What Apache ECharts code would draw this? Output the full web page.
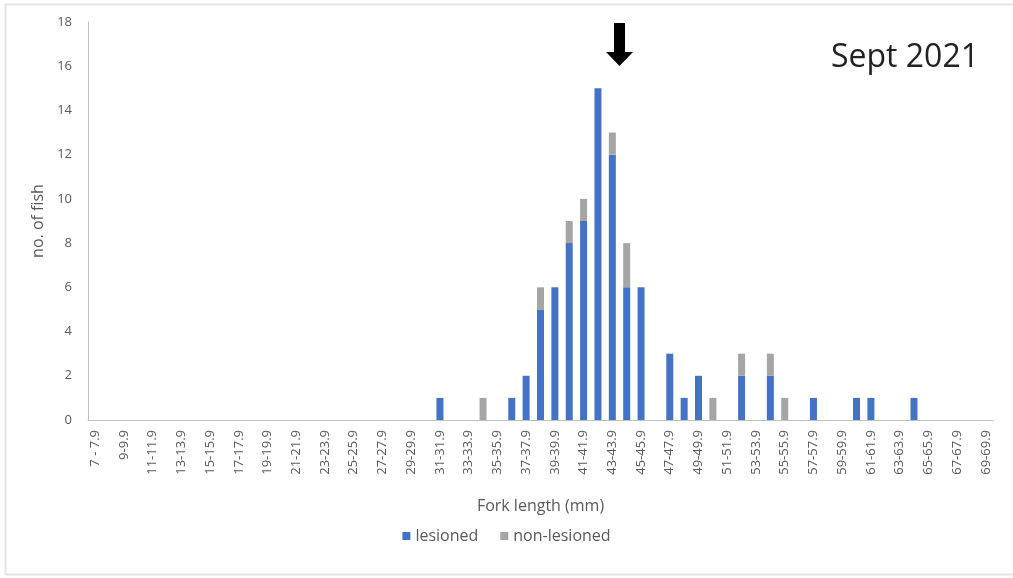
<!DOCTYPE html>
<html>
<head>
<meta charset="utf-8">
<script src="https://cdn.jsdelivr.net/npm/echarts@6/dist/echarts.min.js"></script>
<style>html,body{margin:0;padding:0;background:#fff;}#c{width:1013px;height:578px;}</style>
</head>
<body>
<div id="c"></div>
<script>
const categories = [
  "7 - 7.9","8-8.9","9-9.9","10-10.9","11-11.9","12-12.9","13-13.9","14-14.9","15-15.9","16-16.9",
  "17-17.9","18-18.9","19-19.9","20-20.9","21-21.9","22-22.9","23-23.9","24-24.9","25-25.9","26-26.9",
  "27-27.9","28-28.9","29-29.9","30-30.9","31-31.9","32-32.9","33-33.9","34-34.9","35-35.9","36-36.9",
  "37-37.9","38-38.9","39-39.9","40-40.9","41-41.9","42-42.9","43-43.9","44-44.9","45-45.9","46-46.9",
  "47-47.9","48-48.9","49-49.9","50-50.9","51-51.9","52-52.9","53-53.9","54-54.9","55-55.9","56-56.9",
  "57-57.9","58-58.9","59-59.9","60-60.9","61-61.9","62-62.9","63-63.9","64-64.9","65-65.9","66-66.9",
  "67-67.9","68-68.9","69-69.9"
];
const lesioned = [
  0,0,0,0,0,0,0,0,0,0,
  0,0,0,0,0,0,0,0,0,0,
  0,0,0,0,1,0,0,0,0,1,
  2,5,6,8,9,15,12,6,6,0,
  3,1,2,0,0,2,0,2,0,0,
  1,0,0,1,1,0,0,1,0,0,
  0,0,0
];
const nonLesioned = [
  0,0,0,0,0,0,0,0,0,0,
  0,0,0,0,0,0,0,0,0,0,
  0,0,0,0,0,0,0,1,0,0,
  0,1,0,1,1,0,1,2,0,0,
  0,0,0,1,0,1,0,1,1,0,
  0,0,0,0,0,0,0,0,0,0,
  0,0,0
];
const yTicks = { min: 0, max: 18, interval: 2 };
const seriesNames = ["lesioned", "non-lesioned"];
const annotation = "Sept 2021";

const chart = echarts.init(document.getElementById('c'));
const font = "'Open Sans', 'Liberation Sans', sans-serif";
chart.setOption({
  animation: false,
  backgroundColor: '#ffffff',
  grid: { left: 88, right: 20, top: 22, bottom: 158 },
  legend: {
    data: seriesNames,
    bottom: 29,
    left: 'center',
    itemWidth: 8, itemHeight: 8, itemGap: 22,
    icon: 'rect',
    textStyle: { color: '#595959', fontSize: 16, fontFamily: font }
  },
  xAxis: {
    type: 'category',
    data: categories,
    name: 'Fork length (mm)',
    nameLocation: 'middle',
    nameGap: 78,
    nameTextStyle: { color: '#595959', fontSize: 16, fontFamily: font },
    axisLine: { lineStyle: { color: '#bfbfbf', width: 1 } },
    axisTick: { show: false },
    axisLabel: { interval: 1, rotate: 90, color: '#595959', fontSize: 13, fontFamily: font, margin: 10 }
  },
  yAxis: {
    type: 'value',
    min: yTicks.min, max: yTicks.max, interval: yTicks.interval,
    name: 'no. of fish',
    nameLocation: 'middle',
    nameGap: 37,
    nameTextStyle: { color: '#595959', fontSize: 16, fontFamily: font },
    axisLine: { show: true, lineStyle: { color: '#bfbfbf', width: 1 } },
    axisTick: { show: false },
    splitLine: { show: false },
    axisLabel: { color: '#595959', fontSize: 13, fontFamily: font, margin: 16 }
  },
  series: [
    { name: seriesNames[0], type: 'bar', stack: 'a', data: lesioned, barWidth: 7,
      itemStyle: { color: '#4472C4' } },
    { name: seriesNames[1], type: 'bar', stack: 'a', data: nonLesioned, barWidth: 7,
      itemStyle: { color: '#A5A5A5' } }
  ],
  graphic: [
    { type: 'rect', left: 3, top: 2, shape: { width: 1020, height: 570 }, silent: true,
      style: { fill: 'none', stroke: '#e4e4e4', lineWidth: 2 } },
    { type: 'polygon', silent: true,
      shape: { points: [[614,23],[625,23],[625,52],[633,52],[619.5,66],[606,52],[614,52]] },
      style: { fill: '#000' } },
    { type: 'text', left: 831, top: 42, silent: true,
      style: { text: annotation, fill: '#222', fontSize: 32, fontFamily: font } }
  ]
});
</script>
</body>
</html>
